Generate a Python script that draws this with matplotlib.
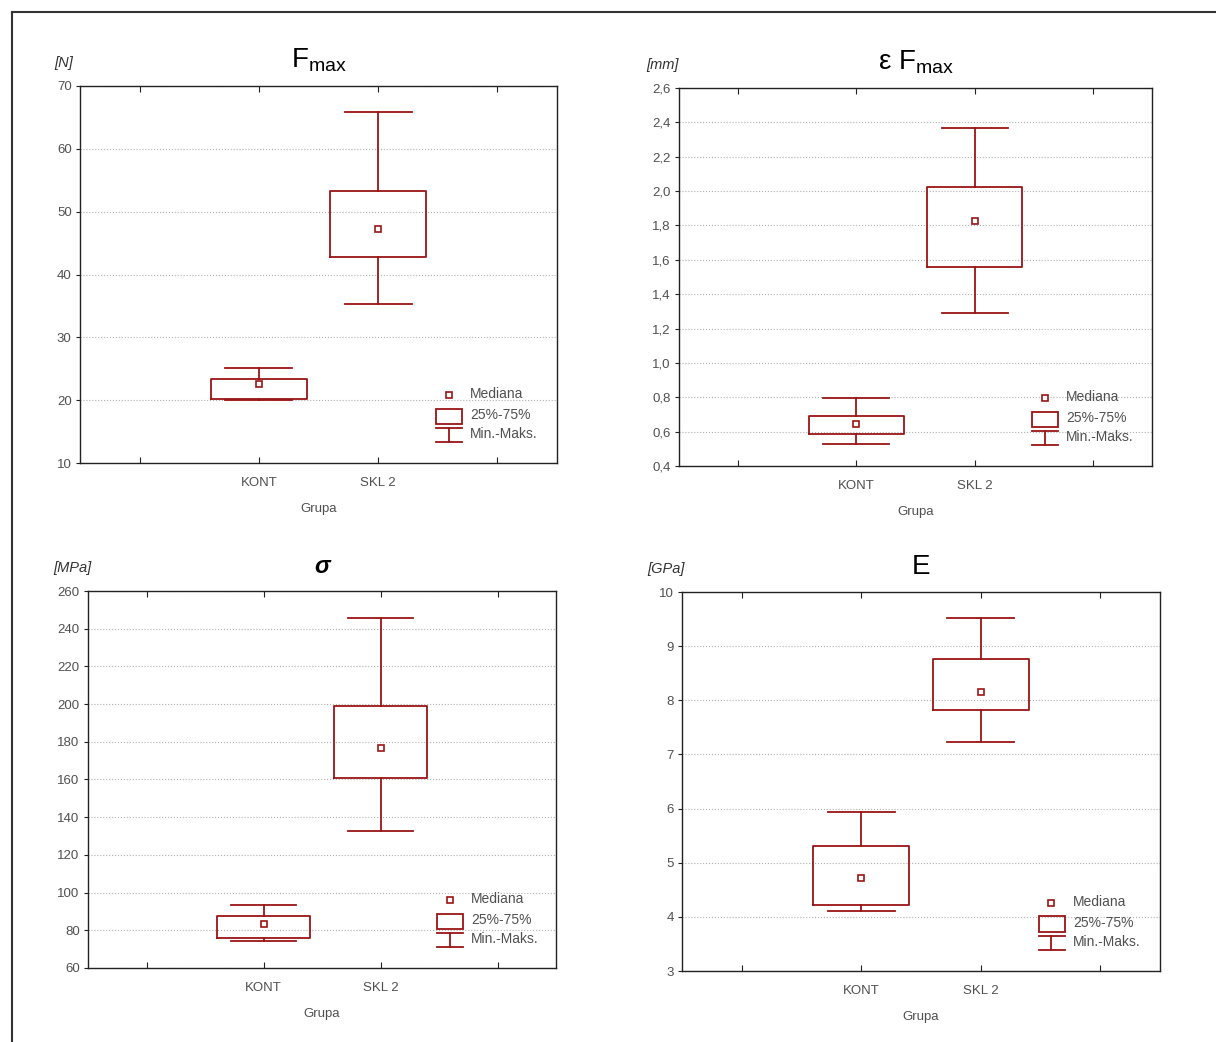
import numpy as np
import matplotlib
matplotlib.use("Agg")
import matplotlib.pyplot as plt
from matplotlib.lines import Line2D
from matplotlib.patches import Rectangle

plt.rcParams['font.family'] = ['Liberation Sans', 'DejaVu Sans']
plt.rcParams['mathtext.fontset'] = 'custom'
plt.rcParams['mathtext.rm'] = 'Liberation Sans'

# ---------------- dane ----------------
grupy = ["KONT", "SKL 2"]

# F max [N]
fmax_min = [20.0, 35.3]
fmax_q1 = [20.15, 42.8]
fmax_med = [22.5, 47.3]
fmax_q3 = [23.4, 53.3]
fmax_max = [25.1, 65.9]

# eps F max [mm]
eps_min = [0.53, 1.29]
eps_q1 = [0.586, 1.558]
eps_med = [0.644, 1.826]
eps_q3 = [0.69, 2.024]
eps_max = [0.796, 2.367]

# sigma [MPa]
sig_min = [74.3, 132.7]
sig_q1 = [75.8, 160.8]
sig_med = [83.5, 176.7]
sig_q3 = [87.4, 199.0]
sig_max = [93.6, 245.7]

# E [GPa]
e_min = [4.11, 7.23]
e_q1 = [4.22, 7.82]
e_med = [4.72, 8.16]
e_q3 = [5.3, 8.77]
e_max = [5.94, 9.52]

fmax_ticks = [10, 20, 30, 40, 50, 60, 70]
eps_ticks = [0.4, 0.6, 0.8, 1.0, 1.2, 1.4, 1.6, 1.8, 2.0, 2.2, 2.4, 2.6]
sig_ticks = [60, 80, 100, 120, 140, 160, 180, 200, 220, 240, 260]
e_ticks = [3, 4, 5, 6, 7, 8, 9, 10]

panele = [
    dict(title=r"$\mathregular{F_{max}}$", unit="[N]", ticks=fmax_ticks, dec=False,
         stats=(fmax_min, fmax_q1, fmax_med, fmax_q3, fmax_max), px=(80, 463, 477, 377)),
    dict(title=r"ε $\mathregular{F_{max}}$", unit="[mm]", ticks=eps_ticks, dec=True,
         stats=(eps_min, eps_q1, eps_med, eps_q3, eps_max), px=(679, 466, 473, 378)),
    dict(title="σ", unit="[MPa]", ticks=sig_ticks, dec=False,
         stats=(sig_min, sig_q1, sig_med, sig_q3, sig_max), px=(88, 968, 468, 377)),
    dict(title="E", unit="[GPa]", ticks=e_ticks, dec=False,
         stats=(e_min, e_q1, e_med, e_q3, e_max), px=(682, 971, 478, 379)),
]

W, H = 1216, 1042
KOLOR = "#9a1515"
SZARY = "#505050"

fig = plt.figure(figsize=(W / 100, H / 100), dpi=100)

# ramka calej figury (gora i lewa strona)
fig.add_artist(Line2D([12 / W, 12 / W], [0, 1 - 12 / H], color="#333333", lw=1.5))
fig.add_artist(Line2D([12 / W, 1], [1 - 12 / H, 1 - 12 / H], color="#333333", lw=1.5))

pozycje = np.array([1, 2])

for p in panele:
    l, b, w, h = p["px"]
    ax = fig.add_axes([l / W, 1 - b / H, w / W, h / H])
    mn, q1, med, q3, mx = p["stats"]

    stats = []
    for i in range(len(grupy)):
        stats.append(dict(whislo=mn[i], q1=q1[i], med=med[i], q3=q3[i], whishi=mx[i], fliers=[]))
    lp = dict(color=KOLOR, lw=1.3)
    ax.bxp(stats, positions=pozycje, widths=0.8, capwidths=0.56, showfliers=False,
           boxprops=lp, whiskerprops=lp, capprops=lp,
           medianprops=dict(linestyle="none"), manage_ticks=False)
    ax.plot(pozycje, med, "s", ms=5, mfc="white", mec=KOLOR, mew=1.2, zorder=5)

    ax.set_xlim(-0.5, 3.5)
    ax.set_xticks([0, 1, 2, 3])
    ax.set_xticklabels(["", grupy[0], grupy[1], ""])
    t = p["ticks"]
    ax.set_ylim(t[0], t[-1])
    ax.set_yticks(t)
    if p["dec"]:
        ax.set_yticklabels([f"{v:.1f}".replace(".", ",") for v in t])
    else:
        ax.set_yticklabels([str(v) for v in t])

    ax.yaxis.grid(True, linestyle=":", color="#b0b0b0", lw=0.8)
    ax.set_axisbelow(True)
    for s in ax.spines.values():
        s.set_color("#222222")
        s.set_linewidth(1.0)
    ax.tick_params(axis="x", direction="in", top=True, length=4, pad=10,
                   labelsize=9.5, labelcolor=SZARY, color="#222222")
    ax.tick_params(axis="y", direction="out", length=3, pad=3,
                   labelsize=9.5, labelcolor=SZARY, color="#222222")
    ax.set_xlabel("Grupa", fontsize=9.5, color=SZARY, labelpad=10)

    jest_sigma = p["title"] == "σ"
    ax.set_title(p["title"], fontsize=17 if jest_sigma else 20, pad=13, color="black",
                 fontstyle="italic" if jest_sigma else "normal",
                 fontweight="bold" if jest_sigma else "normal")
    ax.text(-16 / w, 1 + 23 / h, p["unit"], transform=ax.transAxes, ha="center", va="center",
            fontsize=10.5, fontstyle="italic", color="#333333")

    # legenda
    tr = ax.transAxes
    ax.plot([0.773], [0.18], "s", ms=5, mfc="white", mec=KOLOR, mew=1.2, transform=tr, clip_on=False)
    ax.add_patch(Rectangle((0.746, 0.104), 0.055, 0.04, fill=False, ec=KOLOR, lw=1.3, transform=tr))
    ax.add_line(Line2D([0.746, 0.801], [0.092, 0.092], color=KOLOR, lw=1.3, transform=tr))
    ax.add_line(Line2D([0.773, 0.773], [0.092, 0.056], color=KOLOR, lw=1.3, transform=tr))
    ax.add_line(Line2D([0.746, 0.801], [0.056, 0.056], color=KOLOR, lw=1.3, transform=tr))
    ax.text(0.818, 0.183, "Mediana", transform=tr, va="center", fontsize=10, color=SZARY)
    ax.text(0.818, 0.127, "25%-75%", transform=tr, va="center", fontsize=10, color=SZARY)
    ax.text(0.818, 0.077, "Min.-Maks.", transform=tr, va="center", fontsize=10, color=SZARY)

fig.savefig("out.png", dpi=100)
